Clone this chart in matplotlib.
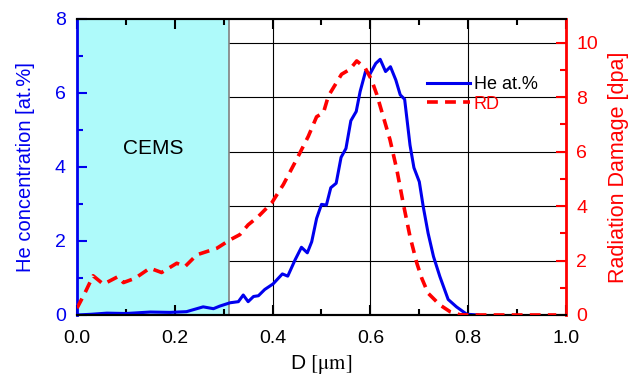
import matplotlib
matplotlib.use("Agg")
import matplotlib.pyplot as plt
from matplotlib.lines import Line2D
from matplotlib.patches import Rectangle
from matplotlib.ticker import MultipleLocator, FormatStrFormatter

plt.rcParams['font.family'] = ['Liberation Sans', 'DejaVu Sans']
plt.rcParams['mathtext.fontset'] = 'stix'

# Helium concentration profile [at.%] vs depth [um]
he_depth = [0.000, 0.030, 0.061, 0.100, 0.150, 0.190, 0.224, 0.258, 0.279, 0.292,
            0.313, 0.330, 0.340, 0.350, 0.361, 0.371, 0.384, 0.401, 0.420, 0.431,
            0.446, 0.459, 0.471, 0.480, 0.490, 0.500, 0.510, 0.519, 0.530, 0.540,
            0.550, 0.560, 0.571, 0.579, 0.590, 0.599, 0.611, 0.620, 0.631, 0.641,
            0.652, 0.661, 0.670, 0.681, 0.689, 0.700, 0.708, 0.718, 0.729, 0.742,
            0.759, 0.776, 0.797, 0.820]
he_conc = [0.00, 0.02, 0.05, 0.04, 0.08, 0.07, 0.09, 0.22, 0.17, 0.24,
           0.33, 0.36, 0.54, 0.36, 0.50, 0.52, 0.69, 0.84, 1.11, 1.05,
           1.49, 1.83, 1.68, 1.98, 2.61, 2.99, 2.97, 3.44, 3.56, 4.26,
           4.50, 5.25, 5.50, 6.04, 6.58, 6.51, 6.80, 6.91, 6.58, 6.71,
           6.35, 5.95, 5.83, 4.59, 3.98, 3.60, 2.93, 2.21, 1.58, 1.04,
           0.42, 0.22, 0.02, 0.00]

# Radiation damage profile [dpa] vs depth [um]
rd_depth = [0.000, 0.016, 0.033, 0.054, 0.084, 0.095, 0.119, 0.149, 0.173, 0.204,
            0.221, 0.245, 0.286, 0.313, 0.333, 0.350, 0.371, 0.398, 0.422, 0.449,
            0.473, 0.490, 0.504, 0.514, 0.541, 0.558, 0.572, 0.589, 0.602, 0.613,
            0.626, 0.640, 0.654, 0.667, 0.681, 0.695, 0.705, 0.718, 0.742, 0.763,
            0.783, 0.800, 0.900, 0.980]
rd_dpa = [0.25, 0.80, 1.44, 1.13, 1.41, 1.19, 1.35, 1.72, 1.56, 1.90,
          1.78, 2.21, 2.45, 2.76, 2.95, 3.31, 3.62, 4.11, 4.79, 5.71,
          6.56, 7.28, 7.43, 8.04, 8.84, 9.02, 9.33, 9.08, 8.65, 8.10,
          7.30, 6.44, 5.34, 4.11, 2.88, 1.90, 1.35, 0.80, 0.37, 0.12,
          0.01, 0.00, 0.00, 0.00]

cems_end = 0.31
he_max = 8.0
rd_max = 10.87

BLUE = '#0000ee'
RED = '#ff0000'

fig = plt.figure(figsize=(6.32, 3.79), dpi=100)
ax = fig.add_axes([0.1218, 0.1689, 0.8956 - 0.1218, 0.9499 - 0.1689])
ax2 = ax.twinx()

ax.set_xlim(0, 1.0)
ax.set_ylim(0, he_max)
ax2.set_ylim(0, rd_max)

# grid: vertical lines at x major ticks, horizontal lines at right-axis major ticks
for xv in [0.2, 0.4, 0.6, 0.8]:
    ax.axvline(xv, color='black', lw=0.8, zorder=0.5)
for rv in [2, 4, 6, 8, 10]:
    ax.axhline(rv * he_max / rd_max, color='black', lw=0.8, zorder=0.5)

# CEMS probing region
ax.add_patch(Rectangle((0, 0), cems_end, he_max, facecolor='#aefafa',
                       edgecolor='#808080', lw=1.2, zorder=1))
ax.text(cems_end / 2, 4.5, 'CEMS', ha='center', va='center', fontsize=15, zorder=2)

ax.plot(he_depth, he_conc, color=BLUE, lw=2.2, zorder=3)
ax2.plot(rd_depth, rd_dpa, color=RED, lw=2.6, ls=(0, (3, 2)), zorder=3)

# ticks
ax.xaxis.set_major_locator(MultipleLocator(0.2))
ax.xaxis.set_minor_locator(MultipleLocator(0.1))
ax.xaxis.set_major_formatter(FormatStrFormatter('%.1f'))
ax.yaxis.set_major_locator(MultipleLocator(2))
ax.yaxis.set_minor_locator(MultipleLocator(1))
ax2.yaxis.set_major_locator(MultipleLocator(2))
ax2.yaxis.set_minor_locator(MultipleLocator(1))

ax.tick_params(axis='x', which='both', direction='in', top=True, bottom=True,
               labelsize=14, pad=11, width=1.5)
ax.tick_params(axis='x', which='major', length=7)
ax.tick_params(axis='x', which='minor', length=4)
ax.tick_params(axis='y', which='both', direction='in', colors=BLUE,
               labelsize=14, width=1.5, pad=8)
ax.tick_params(axis='y', which='major', length=7)
ax.tick_params(axis='y', which='minor', length=4)
ax2.tick_params(axis='y', which='both', direction='in', colors=RED,
                labelsize=14, width=1.5, pad=7.5)
ax2.tick_params(axis='y', which='major', length=7)
ax2.tick_params(axis='y', which='minor', length=4)

for side in ['top', 'bottom']:
    ax.spines[side].set_linewidth(1.5)
    ax2.spines[side].set_linewidth(1.5)
ax.spines['left'].set_color(BLUE)
ax.spines['left'].set_linewidth(2)
ax2.spines['left'].set_visible(False)
ax2.spines['right'].set_color(RED)
ax2.spines['right'].set_linewidth(2)
ax.spines['right'].set_visible(False)

ax.set_xlabel(r'D $\mathrm{[\mu m]}$', fontsize=15, labelpad=4)
ax.set_ylabel('He concentration [at.%]', fontsize=14.5, color=BLUE, labelpad=14)
ax2.set_ylabel('Radiation Damage [dpa]', fontsize=15.5, color=RED, labelpad=7)

handles = [Line2D([], [], color=BLUE, lw=2.2),
           Line2D([], [], color=RED, lw=2.6, ls=(0, (3, 2)))]
leg = ax2.legend(handles, ['He at.%', 'RD'], loc='upper left',
                 bbox_to_anchor=(0.69, 0.85), frameon=False, fontsize=13,
                 handlelength=2.4, handletextpad=0.2, labelspacing=0.15,
                 borderpad=0.2)
leg.get_texts()[1].set_color(RED)

fig.savefig('out.png', dpi=100)
